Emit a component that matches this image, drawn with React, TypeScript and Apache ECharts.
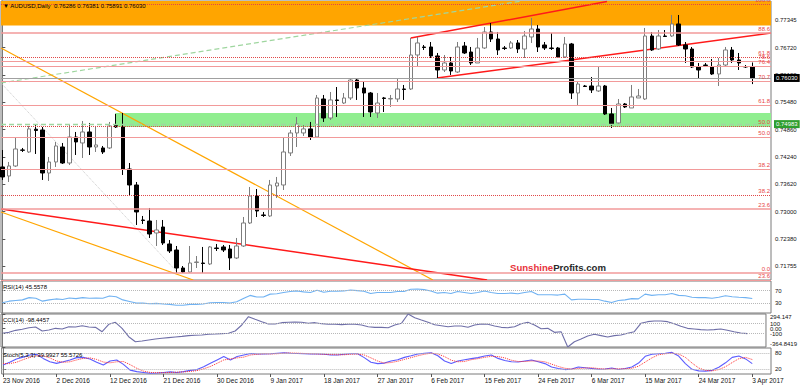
import React, { useEffect, useRef } from "react";
import * as echarts from "echarts";

// ---------- categories / axis labels ----------
const dateLabels = [
  "23 Nov 2016", "2 Dec 2016", "12 Dec 2016", "21 Dec 2016", "30 Dec 2016",
  "9 Jan 2017", "18 Jan 2017", "27 Jan 2017", "6 Feb 2017", "15 Feb 2017",
  "24 Feb 2017", "6 Mar 2017", "15 Mar 2017", "24 Mar 2017", "3 Apr 2017",
];
const barsPerLabel = 8;
const priceTicks = [0.77345, 0.7672, 0.761, 0.7548, 0.7486, 0.7424, 0.7362, 0.73, 0.7238, 0.71755];

// ---------- OHLC (AUDUSD daily) ----------
const opens = [
  0.74011, 0.73806, 0.74033, 0.74396, 0.74351, 0.74867, 0.74850, 0.73874, 0.74124, 0.74464,
  0.74101, 0.74691, 0.74555, 0.74805, 0.74464, 0.74442, 0.74442, 0.74952, 0.74918, 0.73965,
  0.73602, 0.72808, 0.72785, 0.72513, 0.72649, 0.72264, 0.72127, 0.71719, 0.71628, 0.71844,
  0.71832, 0.71810, 0.72173, 0.72196, 0.72150, 0.71946, 0.72218, 0.72740, 0.73352, 0.72922,
  0.72899, 0.73579, 0.73602, 0.74329, 0.74782, 0.74782, 0.74874, 0.74691, 0.75553, 0.75122,
  0.75531, 0.75462, 0.75576, 0.75984, 0.75803, 0.75689, 0.75235, 0.75576, 0.75553, 0.75553,
  0.75780, 0.75780, 0.76551, 0.76733, 0.76733, 0.76529, 0.76211, 0.76370, 0.76165, 0.76755,
  0.76619, 0.76370, 0.76710, 0.77073, 0.76914, 0.76710, 0.76710, 0.76824, 0.76687, 0.76960,
  0.77141, 0.76778, 0.76710, 0.76710, 0.76506, 0.76801, 0.75689, 0.75848, 0.75848, 0.75735,
  0.75848, 0.75213, 0.75009, 0.75440, 0.75349, 0.75576, 0.75553, 0.76982, 0.76687, 0.76982,
  0.76982, 0.77255, 0.76778, 0.76687, 0.76279, 0.76324, 0.76279, 0.76120, 0.76324, 0.76665,
  0.76438, 0.76290, 0.76286,
];
const closes = [
  0.73784, 0.74033, 0.74419, 0.74390, 0.74874, 0.74839, 0.73874, 0.74124, 0.74487, 0.74101,
  0.74691, 0.74578, 0.74805, 0.74464, 0.74510, 0.74351, 0.74941, 0.74918, 0.73965, 0.73602,
  0.72990, 0.72797, 0.72490, 0.72581, 0.72286, 0.72105, 0.71719, 0.71628, 0.71832, 0.71855,
  0.71821, 0.72196, 0.72161, 0.72127, 0.71946, 0.72218, 0.72740, 0.73352, 0.73012, 0.72910,
  0.73602, 0.73647, 0.74351, 0.74782, 0.74986, 0.74874, 0.74691, 0.75576, 0.75122, 0.75531,
  0.75519, 0.75576, 0.75984, 0.75803, 0.75689, 0.75258, 0.75462, 0.75565, 0.75565, 0.75780,
  0.75769, 0.76551, 0.76824, 0.76721, 0.76529, 0.76211, 0.76370, 0.76188, 0.76733, 0.76597,
  0.76370, 0.76710, 0.77073, 0.76914, 0.76665, 0.76699, 0.76824, 0.76687, 0.76982, 0.77141,
  0.76733, 0.76710, 0.76699, 0.76506, 0.76801, 0.75689, 0.75893, 0.75836, 0.75757, 0.75848,
  0.75213, 0.74986, 0.75440, 0.75372, 0.75599, 0.75621, 0.76982, 0.76665, 0.76982, 0.76971,
  0.77255, 0.76778, 0.76687, 0.76279, 0.76211, 0.76313, 0.76120, 0.76324, 0.76665, 0.76438,
  0.76370, 0.76279, 0.76030,
];
const lows = [
  0.73716, 0.73670, 0.74011, 0.74351, 0.74329, 0.74306, 0.73716, 0.73693, 0.74011, 0.74079,
  0.74056, 0.74283, 0.74215, 0.74283, 0.74351, 0.74306, 0.74419, 0.74895, 0.73829, 0.73375,
  0.72695, 0.72717, 0.72400, 0.72218, 0.72241, 0.72059, 0.71605, 0.71605, 0.71605, 0.71719,
  0.71605, 0.71787, 0.72105, 0.72082, 0.71673, 0.71923, 0.72196, 0.72717, 0.72876, 0.72876,
  0.72876, 0.73307, 0.73489, 0.74260, 0.74464, 0.74714, 0.74623, 0.74668, 0.75032, 0.75077,
  0.75145, 0.75440, 0.75531, 0.75531, 0.75145, 0.75145, 0.75122, 0.75258, 0.75372, 0.75485,
  0.75531, 0.75757, 0.76279, 0.76665, 0.76483, 0.76029, 0.76165, 0.76098, 0.76143, 0.76574,
  0.76324, 0.76370, 0.76687, 0.76846, 0.76551, 0.76665, 0.76687, 0.76597, 0.76483, 0.76824,
  0.76619, 0.76665, 0.76665, 0.76483, 0.76483, 0.75553, 0.75417, 0.75825, 0.75689, 0.75712,
  0.75190, 0.74895, 0.74986, 0.75349, 0.75349, 0.75576, 0.75531, 0.76642, 0.76665, 0.76960,
  0.76960, 0.76755, 0.76370, 0.76256, 0.76029, 0.76279, 0.76098, 0.75848, 0.76279, 0.76370,
  0.76211, 0.76256, 0.75891,
];
const highs = [
  0.74396, 0.74124, 0.74668, 0.74442, 0.74941, 0.74963, 0.74918, 0.74238, 0.74578, 0.74555,
  0.74963, 0.74805, 0.75054, 0.75009, 0.74941, 0.74487, 0.75032, 0.75213, 0.75235, 0.74101,
  0.73670, 0.72899, 0.73080, 0.72808, 0.72808, 0.72353, 0.72218, 0.71764, 0.72218, 0.71991,
  0.72196, 0.72218, 0.72264, 0.72241, 0.72241, 0.72400, 0.72876, 0.73557, 0.73511, 0.72990,
  0.73716, 0.73784, 0.74668, 0.74850, 0.75145, 0.74963, 0.75032, 0.75644, 0.75644, 0.75712,
  0.75825, 0.75689, 0.76029, 0.76029, 0.75938, 0.75712, 0.75689, 0.75599, 0.75644, 0.76029,
  0.75871, 0.76937, 0.76960, 0.76778, 0.76846, 0.76597, 0.76551, 0.76506, 0.76846, 0.76846,
  0.76733, 0.76937, 0.77186, 0.77277, 0.77073, 0.76755, 0.76869, 0.76891, 0.77096, 0.77391,
  0.77232, 0.76846, 0.77050, 0.76733, 0.76960, 0.76824, 0.75938, 0.75871, 0.76052, 0.76279,
  0.75871, 0.75349, 0.75553, 0.75462, 0.75871, 0.75780, 0.77164, 0.77073, 0.77118, 0.77118,
  0.77459, 0.77459, 0.76846, 0.76733, 0.76370, 0.76370, 0.76461, 0.76483, 0.76733, 0.76733,
  0.76597, 0.76324, 0.76381,
];

// ---------- indicators ----------
const rsi = [
  32, 37, 39, 41, 48, 46, 37, 41, 44, 42,
  47, 45, 48, 46, 47, 46, 53, 51, 41, 36,
  31, 31, 29, 30, 28, 27, 24, 24, 27, 27,
  28, 32, 33, 33, 31, 35, 45, 55, 50, 50,
  59, 60, 64, 67, 69, 66, 64, 71, 65, 68,
  68, 69, 72, 70, 68, 61, 64, 64, 64, 67,
  67, 74, 75, 73, 69, 62, 64, 61, 67, 64,
  61, 64, 69, 64, 61, 61, 62, 60, 64, 67,
  57, 57, 57, 56, 59, 41, 43, 43, 42, 42,
  37, 33, 39, 41, 45, 44, 59, 55, 57, 57,
  61, 55, 54, 49, 48, 48, 46, 49, 54, 51,
  49, 48, 45.5578,
];
const cci = [
  -91, -72, -32, -12, 21, 35, -45, -25, 8, -5,
  41, 35, 61, 35, 28, -59, 88, 128, 8, -159,
  -259, -245, -225, -205, -191, -178, -165, -152, -138, -131,
  -125, -111, -105, -98, -91, -45, 75, 240, 188, 141,
  95, 95, 121, 128, 134, 128, 108, 121, 101, 88,
  88, 81, 88, 88, 75, 41, 28, 28, 21, 75,
  108, 294.147, 221, 174, 128, 81, 61, 41, 55, 55,
  28, 75, 95, 88, 55, 28, 21, 41, 101, 128,
  75, 1, 8, -72, -59, -364.8419, -259, -205, -145, -111,
  -138, -165, -138, -125, -91, -59, 108, 141, 154, 154,
  141, 101, 48, 8, -5, -18, -25, -18, -5, -32,
  -59, -85, -98.4457,
];
const stochMain = [
  35, 45, 58, 65, 73, 76, 60, 47, 41, 47,
  54, 63, 64, 58, 45, 35, 50, 54, 37, 15,
  9, 6, 3, 4, 6, 8, 6, 9, 14, 17,
  28, 41, 54, 67, 54, 67, 73, 79, 77, 77,
  78, 80, 82, 80, 79, 78, 77, 77, 76, 73,
  73, 76, 78, 78, 63, 45, 40, 42, 50, 55,
  64, 70, 77, 80, 82, 70, 50, 40, 50, 55,
  59, 63, 69, 73, 60, 52, 47, 46, 50, 54,
  47, 40, 27, 21, 17, 19, 27, 24, 21, 18,
  19, 23, 17, 21, 27, 42, 68, 76, 78, 80,
  83, 69, 40, 18, 12, 11, 14, 26, 43, 64,
  69, 58, 39.9927,
];
const stochSignal = [
  40, 40, 45, 55, 64, 70, 70, 62, 50, 45,
  47, 54, 60, 62, 56, 46, 43, 47, 48, 36,
  22, 11, 6, 5, 5, 6, 7, 8, 10, 13,
  20, 29, 41, 54, 58, 62, 65, 73, 76, 78,
  77, 78, 80, 81, 80, 79, 78, 77, 76, 75,
  74, 74, 76, 77, 73, 62, 50, 42, 44, 49,
  56, 63, 70, 76, 80, 77, 67, 53, 47, 48,
  55, 59, 64, 68, 67, 62, 53, 48, 48, 50,
  50, 47, 38, 29, 22, 19, 21, 23, 24, 21,
  19, 20, 20, 20, 22, 30, 46, 62, 74, 78,
  80, 77, 64, 42, 23, 14, 12, 17, 28, 44,
  59, 64, 55.5726,
];
const rsiTicks = [100, 70, 30, 0];
const cciTicks = [294.147, 100, 0, -100, -364.8419];
const cciTickLabels = ["294.147", "100", "0.00", "-100", "-364.8419"];
const stochTicks = [100, 80, 20, 0];

// ---------- drawn levels ----------
const fibPrices = [0.77708, 0.7705, 0.76506, 0.76415, 0.76302, 0.75961, 0.75417, 0.74941, 0.74691, 0.73965, 0.73375, 0.73058, 0.71605, 0.7145];
const fibTexts = ["100.0", "88.6", "61.8", "78.6", "76.4", "70.7", "61.8", "50.0", "50.0", "38.2", "38.2", "23.6", "0.0", "23.6"];
const fibDotted = [true, false, true, false, false, false, false, true, false, false, true, false, false, false];
const currentPrice = 0.7603;
const supportPrice = 0.74983;
const orangeZone = [0.77222, 0.77776];
const greenZone = [0.74918, 0.75235];
const greenZoneStart = 16.85;

const trendOrangeUpper = [[-0.2, 0.7671], [64.3, 0.71447]];
const trendOrangeLower = [[-0.2, 0.7299], [28.5, 0.71447]];
const trendRedDown = [[-0.2, 0.73058], [72.4, 0.71447]];
const channelTop = [[61.0, 0.76937], [90.3, 0.77765]];
const channelBottom = [[64.9, 0.76029], [114.8, 0.7705]];
const greenDiagonal = [[-0.2, 0.75916], [77.6, 0.77776]];
const grayDiagonal = [[-0.2, 0.75916], [26.1, 0.71628]];

const X_MIN = -0.2;
const X_MAX = 114.8;
const Y_MIN = 0.714466;
const Y_MAX = 0.77776;

const FONT = "Liberation Sans, Arial, sans-serif";

function edgeLabelFormatter(ticks: number[], texts: string[]) {
  const hi = Math.max(...ticks);
  const lo = Math.min(...ticks);
  return (v: number) => {
    let best = 0;
    ticks.forEach((t, k) => { if (Math.abs(t - v) < Math.abs(ticks[best] - v)) best = k; });
    const t = ticks[best];
    if (t === hi) return `{t|${texts[best]}}`;
    if (t === lo) return `{b|${texts[best]}}`;
    return texts[best];
  };
}

function buildOption() {
  const idx = (arr: number[]) => arr.map((v, i) => [i, v]);
  const labelVals = dateLabels.map((_, k) => k * barsPerLabel);
  const grids = [
    { top: 1, height: 279 },
    { top: 281, height: 32 },
    { top: 314, height: 33 },
    { top: 348, height: 26 },
  ].map((g) => ({ left: 1, width: 770, ...g, show: true, borderColor: "#7a7a7a", borderWidth: 1 }));

  const xAxes = grids.map((_, gi) => ({
    type: "value",
    gridIndex: gi,
    min: X_MIN,
    max: X_MAX,
    show: gi === 3,
    splitLine: { show: false },
    axisLine: { show: false },
    axisTick: { show: gi === 3, customValues: labelVals, length: 3, lineStyle: { color: "#555" } },
    axisLabel: {
      show: gi === 3,
      customValues: labelVals,
      formatter: (v: number) => dateLabels[Math.round(v / barsPerLabel)] ?? "",
      align: "left",
      fontSize: 6.5,
      color: "#111",
      margin: 3,
      fontFamily: FONT,
    },
  }));

  const smallLabel = { fontSize: 6, color: "#111", margin: 4, fontFamily: FONT };
  const edgeRich = (pad: number) => ({
    t: { fontSize: 6, color: "#111", fontFamily: FONT, padding: [pad, 0, 0, 0] },
    b: { fontSize: 6, color: "#111", fontFamily: FONT, padding: [0, 0, pad, 0] },
  });
  const indAxis = (gi: number, ticks: number[], texts: string[], pad: number) => ({
    type: "value", gridIndex: gi, position: "right", min: Math.min(...ticks), max: Math.max(...ticks),
    splitLine: { show: false },
    axisLine: { show: true, lineStyle: { color: "#7a7a7a" } },
    axisTick: { show: true, customValues: ticks, length: 3, lineStyle: { color: "#555" } },
    axisLabel: { ...smallLabel, customValues: ticks, formatter: edgeLabelFormatter(ticks, texts), rich: edgeRich(pad) },
  });
  const yAxes = [
    {
      type: "value", gridIndex: 0, position: "right", min: Y_MIN, max: Y_MAX,
      splitLine: { show: false },
      axisLine: { show: true, lineStyle: { color: "#7a7a7a" } },
      axisTick: { show: true, customValues: priceTicks, length: 3, lineStyle: { color: "#555" } },
      axisLabel: { ...smallLabel, customValues: priceTicks, formatter: (v: number) => v.toFixed(5) },
    },
    indAxis(1, rsiTicks, rsiTicks.map(String), 8),
    indAxis(2, cciTicks, cciTickLabels, 6),
    indAxis(3, stochTicks, stochTicks.map(String), 7),
  ];

  const fibLines = fibPrices.map((p, k) => ({
    yAxis: p,
    lineStyle: fibDotted[k]
      ? { color: "#e04848", type: "dotted", width: 1 }
      : { color: "#f29a9a", type: "solid", width: k === 1 || k === 11 || k === 12 ? 1.6 : 1.1 },
    label: { show: true, position: "insideEndTop", formatter: fibTexts[k], color: "#e84545", fontSize: 6, distance: 1, fontFamily: FONT },
  }));

  const levelLines = [
    ...fibLines,
    {
      yAxis: currentPrice,
      lineStyle: { color: "#a0a0a0", type: "solid", width: 1 },
      label: { show: true, position: "end", formatter: currentPrice.toFixed(5), backgroundColor: "#000", color: "#fff", padding: [1, 2, 1, 2], fontSize: 6, distance: 3, fontFamily: FONT },
    },
    {
      yAxis: supportPrice,
      lineStyle: { color: "#9fd69f", type: [5, 3], width: 1.3 },
      label: { show: true, position: "end", formatter: supportPrice.toFixed(5), backgroundColor: "#2e9e2e", color: "#fff", padding: [1, 2, 1, 2], fontSize: 6, distance: 3, fontFamily: FONT },
    },
  ];

  const trend = (data: number[][], color: string, width: number, type: any = "solid") => ({
    type: "line", xAxisIndex: 0, yAxisIndex: 0, data, showSymbol: false, silent: true, z: 2,
    lineStyle: { color, width, type }, clip: true,
  });

  const indLine = (gi: number, data: number[], color: string, width = 1, type: any = "solid", levels: number[] = []) => ({
    type: "line", xAxisIndex: gi, yAxisIndex: gi, data: idx(data), showSymbol: false, silent: true,
    lineStyle: { color, width, type }, z: 3,
    markLine: levels.length
      ? { silent: true, precision: 6, symbol: ["none", "none"], label: { show: false }, lineStyle: { color: "#b8b8b8", type: "dotted", width: 1 }, data: levels.map((l) => ({ yAxis: l })) }
      : undefined,
  });

  const candleData = opens.map((o, i) => [i, o, closes[i], lows[i], highs[i]]);
  const titleStyle = { fontSize: 6, fontWeight: "normal", color: "#000", fontFamily: FONT };

  return {
    animation: false,
    backgroundColor: "#ffffff",
    textStyle: { fontFamily: FONT },
    title: [
      {
        text: `▼ AUDUSD,Daily  ${opens[112].toFixed(5)} ${highs[112].toFixed(5)} ${lows[112].toFixed(5)} ${closes[112].toFixed(5)}`,
        left: 3, top: 3, padding: 0, textStyle: titleStyle,
      },
      { text: `RSI(14) ${rsi[112]}`, left: 3, top: 283.5, padding: 0, textStyle: titleStyle },
      { text: `CCI(14) ${cci[112]}`, left: 3, top: 316.5, padding: 0, textStyle: titleStyle },
      { text: `Stoch(5,3,3) ${stochMain[112]} ${stochSignal[112]}`, left: 3, top: 351.5, padding: 0, textStyle: titleStyle },
      {
        text: "{a|Sunshine}{b|Profits.com}", left: 510, top: 262, padding: 0,
        textStyle: { rich: { a: { color: "#e8343c", fontSize: 9.6, fontFamily: FONT }, b: { color: "#2a2a2a", fontSize: 9.6, fontFamily: FONT } } },
      },
    ],
    grid: grids,
    xAxis: xAxes,
    yAxis: yAxes,
    series: [
      {
        type: "line", xAxisIndex: 0, yAxisIndex: 0, data: [], silent: true, z: 1,
        markArea: {
          silent: true,
          data: [
            [{ xAxis: X_MIN, yAxis: orangeZone[0], itemStyle: { color: "#ffa500", opacity: 1 } }, { xAxis: X_MAX, yAxis: orangeZone[1] }],
            [{ xAxis: greenZoneStart, yAxis: greenZone[0], itemStyle: { color: "#90ee90", opacity: 1 } }, { xAxis: X_MAX, yAxis: greenZone[1] }],
          ],
        },
        markLine: { silent: true, precision: 6, symbol: ["none", "none"], data: levelLines },
      },
      trend(grayDiagonal, "#c9c9c9", 1, "dotted"),
      trend(greenDiagonal, "#9fd69f", 1.2, [5, 3]),
      trend(trendOrangeUpper, "#ffa500", 1.2),
      trend(trendOrangeLower, "#ffa500", 1.2),
      trend(trendRedDown, "#ff1a1a", 1.5),
      trend(channelTop, "#ff1a1a", 1.5),
      trend(channelBottom, "#ff1a1a", 1.5),
      {
        type: "candlestick", xAxisIndex: 0, yAxisIndex: 0, data: candleData, z: 3, barWidth: 4, clip: true, silent: true,
        itemStyle: { color: "#ffffff", color0: "#000000", borderColor: "#7d7d7d", borderColor0: "#000000", borderWidth: 1 },
      },
      indLine(1, rsi, "#70b2f2", 1.1, "solid", [70, 30]),
      indLine(2, cci, "#6f6fa8", 1.1, "solid", [100, -100]),
      indLine(3, stochMain, "#5c5cff", 1.1, "solid", [80, 20]),
      indLine(3, stochSignal, "#ff3030", 1, "dotted"),
    ],
  };
}

export default function App() {
  const ref = useRef<HTMLDivElement>(null);
  useEffect(() => {
    if (!ref.current) return;
    const chart = echarts.init(ref.current, null, { renderer: "svg" });
    chart.setOption(buildOption() as any);
    return () => chart.dispose();
  }, []);
  return <div ref={ref} style={{ position: "fixed", left: 0, top: 0, width: 800, height: 386, background: "#fff" }} />;
}
